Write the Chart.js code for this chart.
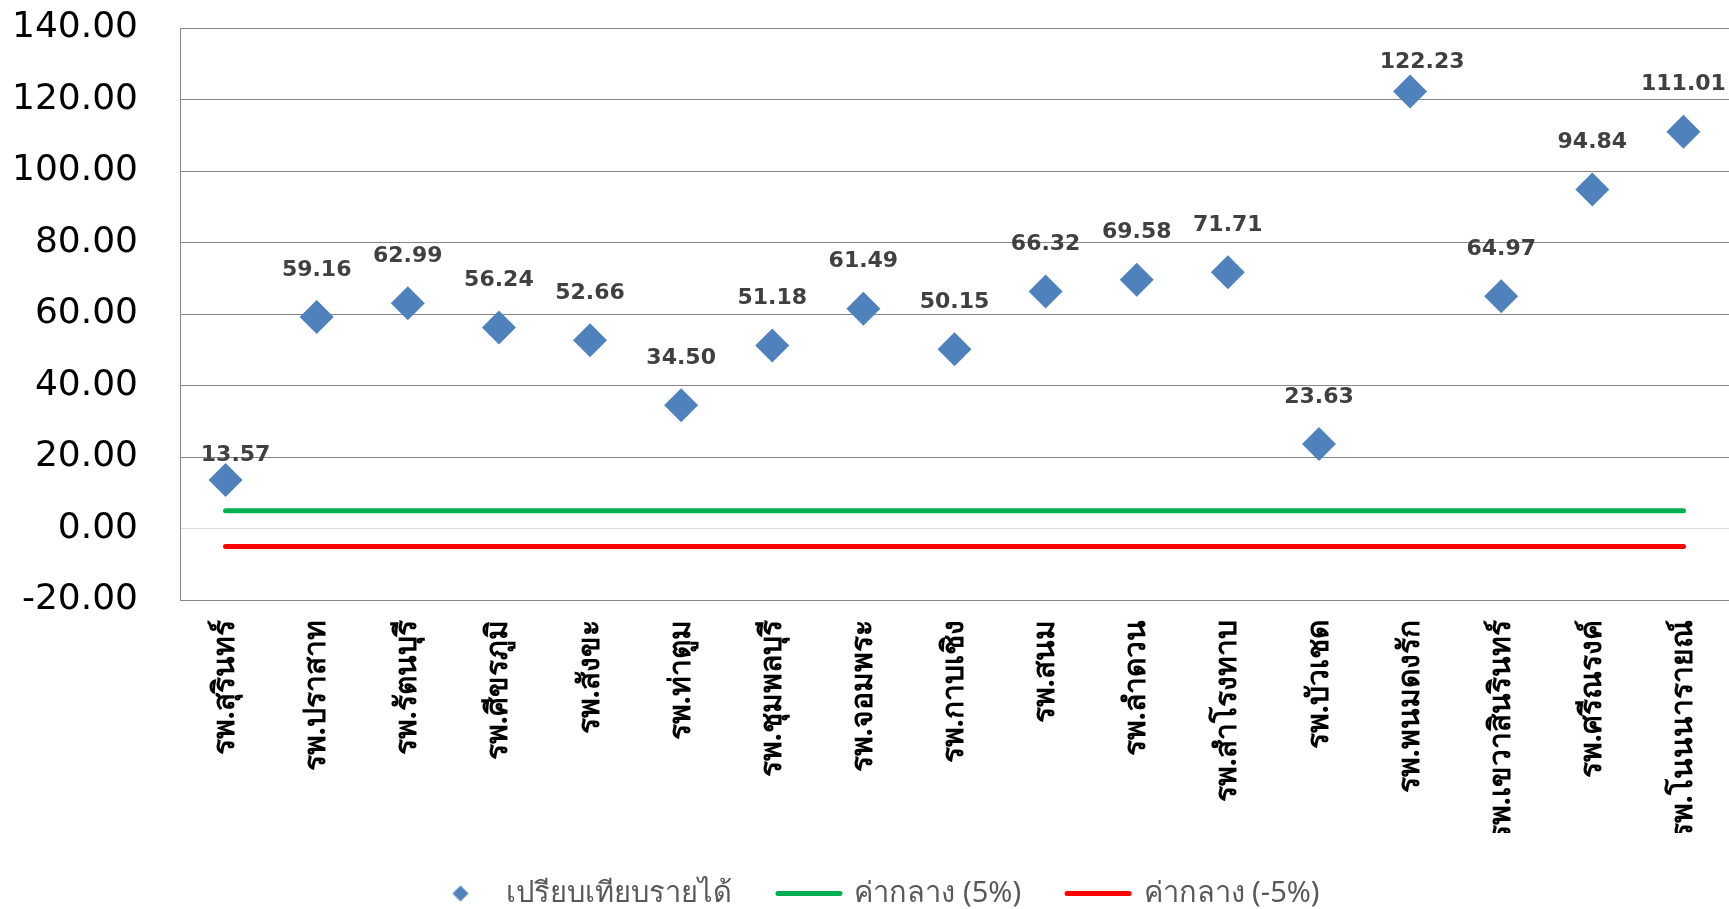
<!DOCTYPE html>
<html>
<head>
<meta charset="utf-8">
<script src="https://cdn.jsdelivr.net/npm/chart.js@4.4.1/dist/chart.umd.min.js"></script>
<style>
  html, body { margin: 0; padding: 0; background: #fff; overflow: hidden; }
  #wrap { position: relative; width: 1729px; height: 909px; }
</style>
</head>
<body>
<div id="wrap"><canvas id="myChart"></canvas></div>
<script>
const hospitals = ['รพ.สุรินทร์', 'รพ.ปราสาท', 'รพ.รัตนบุรี', 'รพ.ศีขรภูมิ', 'รพ.สังขะ', 'รพ.ท่าตูม',
  'รพ.ชุมพลบุรี', 'รพ.จอมพระ', 'รพ.กาบเชิง', 'รพ.สนม', 'รพ.ลำดวน', 'รพ.สำโรงทาบ', 'รพ.บัวเชด',
  'รพ.พนมดงรัก', 'รพ.เขวาสินรินทร์', 'รพ.ศรีณรงค์', 'รพ.โนนนารายณ์']
const incomeRatio = [13.57, 59.16, 62.99, 56.24, 52.66, 34.50, 51.18, 61.49, 50.15, 66.32,
  69.58, 71.71, 23.63, 122.23, 64.97, 94.84, 111.01]
const medianPlus = [5, 5, 5, 5, 5, 5, 5, 5, 5, 5, 5, 5, 5, 5, 5, 5, 5]
const medianMinus = [-5, -5, -5, -5, -5, -5, -5, -5, -5, -5, -5, -5, -5, -5, -5, -5, -5]
const yTicks = [-20, 0, 20, 40, 60, 80, 100, 120, 140]

const thaiFont = '"Noto Sans", "DejaVu Sans", sans-serif'

// a few labels were moved by hand in the original
const labelNudge = {0: [10, 22], 13: [12, 18]}

// small diamond for the legend
const diamondIcon = document.createElement('canvas')
diamondIcon.width = 18
diamondIcon.height = 18
let dctx = diamondIcon.getContext('2d')
dctx.fillStyle = '#4F81BD'
dctx.beginPath()
dctx.moveTo(9, 1); dctx.lineTo(17, 9); dctx.lineTo(9, 17); dctx.lineTo(1, 9)
dctx.closePath()
dctx.fill()

const pointLabels = {
  id: 'pointLabels',
  afterDatasetsDraw(chart) {
    let meta = chart.getDatasetMeta(0)
    let ctx = chart.ctx
    ctx.save()
    ctx.font = 'bold 22px "DejaVu Sans"'
    ctx.fillStyle = '#404040'
    ctx.textAlign = 'center'
    ctx.textBaseline = 'middle'
    meta.data.forEach((pt, i) => {
      let n = labelNudge[i] || [0, 0]
      ctx.fillText(incomeRatio[i].toFixed(2), pt.x + n[0], pt.y - 47 + n[1])
    })
    ctx.restore()
  }
}

// the plot runs right up to the edge of the picture
const fillRight = {
  id: 'fillRight',
  afterLayout(chart) {
    let area = chart.chartArea
    area.right = chart.width
    area.width = area.right - area.left
    let x = chart.scales.x
    x.right = chart.width
    x.width = x.right - x.left
    x.configure()
    let lg = chart.legend
    lg.left += 10
    lg.right += 10
  }
}

let ctx = document.getElementById('myChart')
let myChart = new Chart(ctx, {
  type: 'line',
  data: {
    labels: hospitals,
    datasets: [{
        data: incomeRatio,
        label: 'เปรียบเทียบรายได้',
        showLine: false,
        pointStyle: 'rectRot',
        pointRadius: 17,
        pointHoverRadius: 17,
        backgroundColor: '#4F81BD',
        borderColor: '#4F81BD',
        pointBorderWidth: 0
      }, {
        data: medianPlus,
        label: 'ค่ากลาง (5%)',
        borderColor: '#00B050',
        borderWidth: 5,
        borderCapStyle: 'round',
        pointRadius: 0,
        fill: false
      }, {
        data: medianMinus,
        label: 'ค่ากลาง (-5%)',
        borderColor: '#FF0000',
        borderWidth: 5,
        borderCapStyle: 'round',
        pointRadius: 0,
        fill: false
      }
    ]
  },
  options: {
    responsive: true,
    maintainAspectRatio: false,
    animation: false,
    layout: { padding: { top: 28, left: 0, right: 0, bottom: -9 } },
    elements: {
      line: { tension: 0 }
    },
    scales: {
      x: {
        offset: true,
        grid: {
          display: true,
          drawOnChartArea: false,
          drawTicks: true,
          tickLength: 20,
          tickColor: 'rgba(0,0,0,0)'
        },
        border: { color: '#868686', width: 1 },
        ticks: {
          minRotation: 90,
          maxRotation: 90,
          autoSkip: false,
          padding: 0,
          color: '#000',
          font: { family: thaiFont, size: 30, weight: 'bold' }
        },
        afterFit(scale) { scale.height = 233 }
      },
      y: {
        min: -20,
        max: 140,
        afterBuildTicks(scale) { scale.ticks = yTicks.map(v => ({value: v})) },
        grid: {
          drawTicks: true,
          tickLength: 40,
          tickColor: 'rgba(0,0,0,0)',
          color: c => c.tick && c.tick.value === 0 ? '#d9d9d9' : '#868686'
        },
        border: { color: '#868686', width: 1 },
        ticks: {
          padding: 2,
          color: '#000',
          font: { family: '"DejaVu Sans"', size: 36 },
          callback: v => v.toFixed(2)
        },
        afterFit(scale) { scale.width = 180 }
      }
    },
    plugins: {
      tooltip: { enabled: false },
      legend: {
        position: 'bottom',
        labels: {
          usePointStyle: true,
          pointStyleWidth: 62,
          padding: 46,
          color: '#595959',
          font: { family: thaiFont, size: 29 },
          generateLabels(chart) {
            return chart.data.datasets.map((ds, i) => ({
              text: ds.label,
              datasetIndex: i,
              fillStyle: ds.borderColor,
              strokeStyle: ds.borderColor,
              lineWidth: i === 0 ? 0 : 5,
              lineCap: 'round',
              pointStyle: i === 0 ? diamondIcon : 'line',
              fontColor: '#595959'
            }))
          }
        }
      }
    }
  },
  plugins: [pointLabels, fillRight]
})
</script>
</body>
</html>
